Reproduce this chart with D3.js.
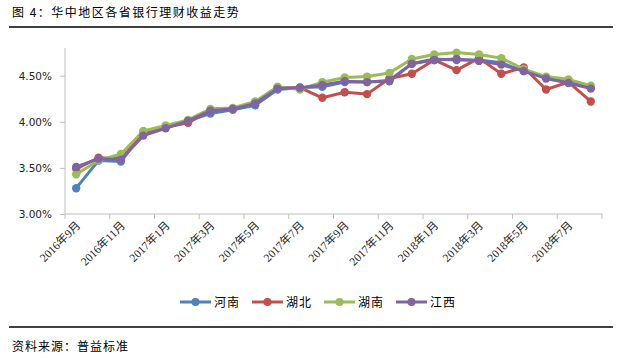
<!DOCTYPE html>
<html>
<head>
<meta charset="utf-8">
<script src="https://cdn.jsdelivr.net/npm/d3@7"></script>
<style>
body { margin: 0; background: #fff; }
text { font-family: "Noto Sans CJK SC", "Noto Sans", sans-serif; }
</style>
</head>
<body>
<div id="chart"></div>
<script>
// months, 2016-09 .. 2018-08
var months = ["2016年9月","2016年10月","2016年11月","2016年12月","2017年1月","2017年2月",
	"2017年3月","2017年4月","2017年5月","2017年6月","2017年7月","2017年8月",
	"2017年9月","2017年10月","2017年11月","2017年12月","2018年1月","2018年2月",
	"2018年3月","2018年4月","2018年5月","2018年6月","2018年7月","2018年8月"];

var henan  = [3.28,3.58,3.57,3.88,3.95,4.01,4.09,4.13,4.18,4.35,4.37,4.38,4.43,4.43,4.44,4.63,4.68,4.67,4.67,4.64,4.55,4.48,4.44,4.37];
var hubei  = [3.49,3.61,3.60,3.87,3.94,3.99,4.12,4.14,4.21,4.37,4.37,4.26,4.32,4.30,4.47,4.52,4.67,4.56,4.69,4.52,4.59,4.35,4.43,4.22];
var hunan  = [3.43,3.58,3.65,3.90,3.96,4.02,4.14,4.15,4.22,4.38,4.35,4.43,4.48,4.49,4.53,4.68,4.73,4.75,4.73,4.69,4.57,4.49,4.46,4.39];
var jiangxi= [3.51,3.60,3.59,3.85,3.93,4.01,4.12,4.14,4.20,4.36,4.37,4.40,4.44,4.43,4.45,4.63,4.67,4.68,4.66,4.62,4.55,4.47,4.42,4.36];

var seriesNames = ["河南","湖北","湖南","江西"];
var colors = ["#4F81BD","#C0504D","#9BBB59","#8064A2"];
var yTicks = [3.0,3.5,4.0,4.5];

var allSeries = [henan, hubei, hunan, jiangxi];

var W = 635, H = 363;
var svg = d3.select("#chart").append("svg")
	.attr("width", W)
	.attr("height", H);

// title + rules
svg.append("text")
	.attr("x", 12).attr("y", 17)
	.style("font-size", "12px")
	.style("letter-spacing", "1.5px")
	.attr("fill", "#000")
	.text("图 4：华中地区各省银行理财收益走势");
svg.append("line").attr("x1", 9).attr("x2", 613).attr("y1", 27).attr("y2", 27)
	.attr("stroke", "#000").attr("stroke-width", 1.5);
svg.append("line").attr("x1", 9).attr("x2", 613).attr("y1", 327).attr("y2", 327)
	.attr("stroke", "#000").attr("stroke-width", 1.5);
svg.append("text")
	.attr("x", 12).attr("y", 351)
	.style("font-size", "12px")
	.style("letter-spacing", "1px")
	.attr("fill", "#000")
	.text("资料来源：普益标准");

var x = d3.scaleBand().domain(months).range([65, 602]);
var y = d3.scaleLinear().domain([3.0, 4.8]).range([214, 48]);

// y axis
var yAxis = svg.append("g").attr("transform", "translate(65,0)")
	.call(d3.axisLeft(y).tickValues(yTicks).tickSize(5).tickPadding(8)
		.tickFormat(function(d){ return d.toFixed(2) + "%"; }));
yAxis.select(".domain").attr("stroke", "#BFBFBF").attr("d", "M0,48V214");
yAxis.selectAll(".tick line").attr("stroke", "#BFBFBF");
yAxis.selectAll(".tick text")
	.style("font-family", "'DejaVu Sans', 'Liberation Sans', sans-serif")
	.style("font-size", "10.5px")
	.attr("fill", "#222");

// x axis, ticks between every second category
var xAxisG = svg.append("g").attr("transform", "translate(0,214)");
xAxisG.append("line").attr("x1", 65).attr("x2", 602)
	.attr("stroke", "#BFBFBF");
var edges = months.filter(function(d, i){ return i % 2 == 0; });
xAxisG.selectAll(".xt")
	.data(edges.concat(["end"]))
	.enter().append("line")
		.attr("class", "xt")
		.attr("x1", function(d){ return d == "end" ? 602 : x(d); })
		.attr("x2", function(d){ return d == "end" ? 602 : x(d); })
		.attr("y1", 0).attr("y2", 5)
		.attr("stroke", "#BFBFBF");
xAxisG.selectAll(".xl")
	.data(edges)
	.enter().append("text")
		.attr("class", "xl")
		.attr("text-anchor", "end")
		.attr("transform", function(d){
			return "translate(" + (x(d) + x.bandwidth()/2 + 5) + ",12) rotate(-45)";
		})
		.style("font-family", "'Liberation Serif', 'Noto Sans CJK SC', serif")
		.style("font-size", "11.5px")
		.attr("fill", "#222")
		.text(function(d){ return d; });

// lines and markers
var line = d3.line()
	.x(function(d, i){ return x(months[i]) + x.bandwidth()/2; })
	.y(function(d){ return y(d); });

allSeries.forEach(function(s, k){
	var g = svg.append("g");
	g.append("path")
		.datum(s)
		.attr("d", line)
		.attr("fill", "none")
		.attr("stroke", colors[k])
		.attr("stroke-width", 3)
		.attr("stroke-linejoin", "round");
	g.selectAll("circle")
		.data(s)
		.enter().append("circle")
			.attr("cx", function(d, i){ return x(months[i]) + x.bandwidth()/2; })
			.attr("cy", function(d){ return y(d); })
			.attr("r", 4.2)
			.attr("fill", colors[k]);
});

// legend
var legX = [180, 252, 324, 396];
var leg = svg.selectAll(".leg")
	.data(seriesNames)
	.enter().append("g")
		.attr("class", "leg")
		.attr("transform", function(d, i){ return "translate(" + legX[i] + ",302)"; });
leg.append("line").attr("x1", 0).attr("x2", 31).attr("y1", 0).attr("y2", 0)
	.attr("stroke", function(d, i){ return colors[i]; })
	.attr("stroke-width", 3);
leg.append("circle").attr("cx", 15.5).attr("cy", 0).attr("r", 4)
	.attr("fill", function(d, i){ return colors[i]; });
leg.append("text").attr("x", 34).attr("y", 4.5)
	.style("font-size", "12px")
	.style("letter-spacing", "1px")
	.attr("fill", "#000")
	.text(function(d){ return d; });
</script>
</body>
</html>
